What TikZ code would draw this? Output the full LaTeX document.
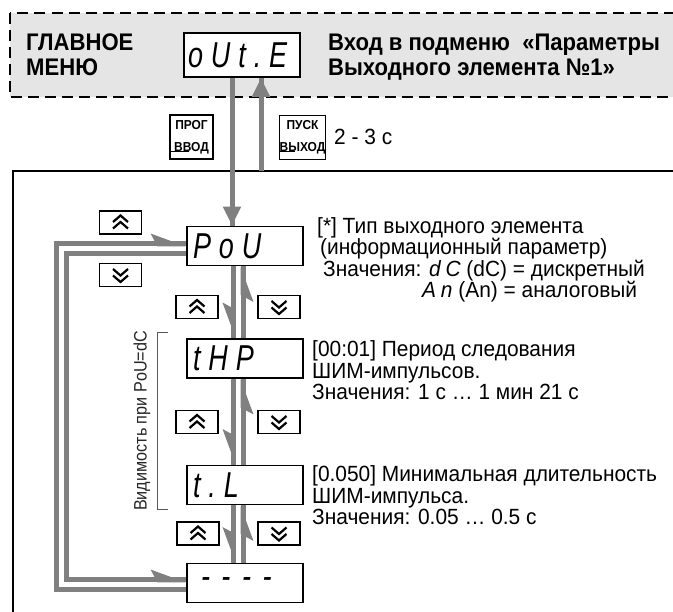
\documentclass[tikz,border=0pt]{standalone}
\usepackage{fontspec}
\usetikzlibrary{arrows.meta}
\setmainfont{Liberation Sans}[FakeStretch=0.95]
\newfontfamily\hdrfont{Liberation Sans}[FakeStretch=0.92]
\newfontfamily\visfont{Liberation Sans}[FakeStretch=0.9]
\newfontfamily\segfont{Liberation Sans}[FakeStretch=0.95, LetterSpace=22]
\newfontfamily\dispfont{Liberation Sans}[FakeStretch=0.75, LetterSpace=22]
\definecolor{conncol}{gray}{0.5}
\definecolor{menufill}{gray}{0.9}
\definecolor{brkcol}{gray}{0.35}
\newcommand\chevsUp{%
  \draw[line width=2.2, shift={(path picture bounding box.center)}]
    (-7.5,-0.5) -- (0,-7) -- (7.5,-0.5) (-7.5,6) -- (0,-0.5) -- (7.5,6);}
\newcommand\chevsDn{%
  \draw[line width=2.2, shift={(path picture bounding box.center)}]
    (-7.5,0.5) -- (0,7) -- (7.5,0.5) (-7.5,-6) -- (0,0.5) -- (7.5,-6);}
\newcommand\keyBar{%
  \draw[line width=1.2, shift={(path picture bounding box.center)}] (-15,0) -- (15,0);}
\newcommand\segtxt[1]{{\segfont\itshape #1}}
\begin{document}
\begin{tikzpicture}[x=1pt,y=-1pt,
  txt/.style={anchor=base west, inner sep=0, font=\fontsize{22}{24}\selectfont},
  hdr/.style={anchor=base west, inner sep=0, font=\hdrfont\bfseries\fontsize{24}{27}\selectfont},
  disp/.style={draw, line width=1.6, fill=white, minimum height=39, inner xsep=6, inner ysep=0,
    text width=104, align=left, font=\dispfont\itshape\fontsize{36}{36}\selectfont},
  keybox/.style={draw, line width=1.4, fill=white, minimum width=42, minimum height=23, inner sep=0},
  upkey/.style={keybox, path picture={\chevsUp}},
  dnkey/.style={keybox, path picture={\chevsDn}},
  bigkey/.style={draw, line width=1.4, fill=white, minimum width=43, minimum height=44, inner sep=0,
    align=center, font=\hdrfont\bfseries\fontsize{13}{22}\selectfont, path picture={\keyBar}},
  conn/.style={draw=conncol, line width=5},
  harp/.style={postaction={draw=conncol, -{Stealth[harpoon, length=28pt, width=20pt, inset=5pt]}}},
  harps/.style={postaction={draw=conncol, -{Stealth[harpoon, swap, length=28pt, width=20pt, inset=5pt]}}},
  fullarrow/.style={postaction={draw=conncol, -{Triangle[length=19pt, width=17pt]}}},
]
\useasboundingbox (0,0) rectangle (673,612);
\clip (0,0) rectangle (673,612);
\fill[white] (0,0) rectangle (673,612);

% main menu strip
\draw[fill=menufill, line width=2, dash pattern=on 11pt off 6pt] (9.5,13) rectangle (700,97);
\node[hdr] (gm1) at (26,51) {ГЛАВНОЕ};
\node[hdr] (gm2) at (26,76) {МЕНЮ};
\node[hdr] (gt1) at (328,51) {Вход в подменю \ «Параметры};
\node[hdr] (gt2) at (328,76) {Выходного элемента №1»};
\node[disp, minimum height=44, text width=108, inner xsep=4] (oute) at (242,55) {oUt.E};

% submenu frame
\draw[line width=2] (13,700) -- (13,171) -- (700,171);
\coordinate (frm) at (261,171);

% keys for entry / exit
\node[bigkey] (prog) at (191.5,137) {ПРОГ\\ВВОД};
\node[bigkey] (pusk) at (302.5,137.5) {ПУСК\\ВЫХОД};
\node[txt, anchor=west] (t23) at (334,137) {2 - 3 с};

% displays
\node[disp] (pou) at (245,246) {PoU};
\node[disp] (thp) at (245,358.5) {tHP};
\node[disp] (tl) at (245,485) {t.L};
\node[disp, font=\dispfont\itshape\fontsize{36}{36}\selectfont\addfontfeature{LetterSpace=32}] (dsh) at (245,583) {\hspace{8pt}----};

\coordinate (xd) at (233,0);
\coordinate (xu) at (243,0);
\coordinate (xt) at (232,0);

% entry / exit arrows
\draw[conn, fullarrow] (oute.south -| xt) -- (pou.north -| xt);
\draw[conn, fullarrow] (frm) -- (oute.south -| frm);

% vertical chain
\draw[conn, harps] (pou.south -| xd) -- (thp.north -| xd);
\draw[conn, harps] (thp.north -| xu) -- (pou.south -| xu);
\draw[conn, harps] (thp.south -| xd) -- (tl.north -| xd);
\draw[conn, harps] (tl.north -| xu) -- (thp.south -| xu);
\draw[conn, harps] (tl.south -| xd) -- (dsh.north -| xd);
\draw[conn, harps] (dsh.north -| xu) -- (tl.south -| xu);

% loops
\coordinate (lo) at (56,244);
\coordinate (li) at (66,254);
\coordinate (lob) at (56,590);
\coordinate (lib) at (66,580);
\draw[conn, harp] (dsh.west |- lob) -- (lob) -- (lo) -- (pou.west |- lo);
\draw[conn, harp] (pou.west |- li) -- (li) -- (lib) -- (dsh.west |- lib);

% step keys
\node[upkey] (ku0) at (120.5,222.5) {};
\node[dnkey] (kd0) at (120.5,275) {};
\node[upkey] (ku1) at (197,307) {};
\node[dnkey] (kd1) at (279,307) {};
\node[upkey] (ku2) at (197,422) {};
\node[dnkey] (kd2) at (279,422) {};
\node[upkey] (ku3) at (198,533.5) {};
\node[dnkey] (kd3) at (279,533.5) {};

% visibility bracket
\draw[brkcol, line width=1] (168,333) -- (157,333) -- (157,510) -- (168,510);
\node[rotate=90, inner sep=0, text=black!85, font=\visfont\fontsize{18}{20}\selectfont] (vis) at (142,421) {Видимость при PoU=dC};

% descriptions
\node[txt] (a1) at (317,234) {[*] Тип выходного элемента};
\node[txt] (a2) at (320,255) {(информационный параметр)};
\node[txt] (a3) at (323,277) {Значения: \segtxt{dC} (dC) = дискретный};
\node[txt] (a4) at (422,298) {\segtxt{An} (An) = аналоговый};
\node[txt] (b1) at (312,357) {[00:01] Период следования};
\node[txt] (b2) at (312,379) {ШИМ-импульсов.};
\node[txt] (b3) at (312,400) {Значения: 1 с \dots\ 1 мин 21 с};
\node[txt] (c1) at (312,482) {[0.050] Минимальная длительность};
\node[txt] (c2) at (312,504) {ШИМ-импульса.};
\node[txt] (c3) at (312,525) {Значения: 0.05 \dots\ 0.5 с};
\end{tikzpicture}
\end{document}
